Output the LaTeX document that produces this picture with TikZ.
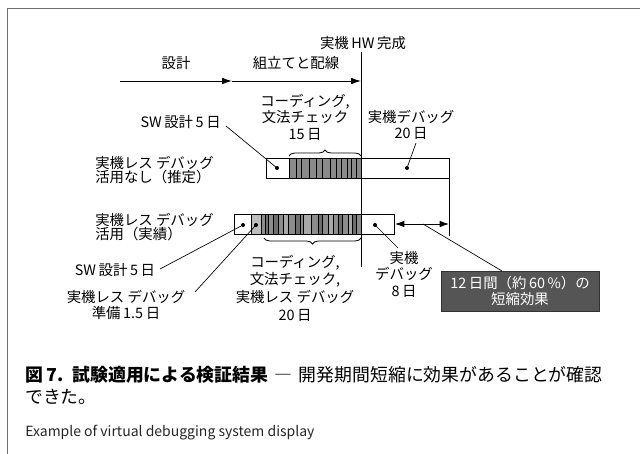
\documentclass[tikz,border=0pt]{standalone}
\usepackage{fontspec}
\setmainfont{Noto Sans CJK JP}
\usetikzlibrary{arrows.meta,decorations.pathreplacing}
\definecolor{darkfill}{HTML}{8A8A8A}
\definecolor{gA}{HTML}{6E6E6E}
\definecolor{gB}{HTML}{8C8C8C}
\definecolor{gC}{HTML}{A8A8A8}
\definecolor{prepfill}{HTML}{BDBDBD}
\definecolor{boxfill}{HTML}{555555}
\definecolor{boxline}{HTML}{333333}
\definecolor{framec}{HTML}{707070}
\newcommand{\jsp}{\hspace{0.18em}}
\begin{document}
\begin{tikzpicture}[x=0.75pt,y=-0.75pt,
  lbl/.style={font=\fontsize{10.8}{12.4}\selectfont, inner sep=0pt, align=center},
  tightlbl/.style={font=\fontsize{10.8}{11}\selectfont, inner sep=0pt, align=left},
  leader/.style={line width=0.5pt},
  dotm/.style={circle, fill=black, inner sep=0pt, minimum size=3pt},
  barline/.style={line width=0.75pt},
  stripe/.style={line width=0.6pt},
  tlarrow/.style={line width=0.75pt, -{Latex[length=7.5pt,width=5pt]}},
  dimarrow/.style={line width=0.75pt, {Latex[length=7pt,width=5pt]}-{Latex[length=7pt,width=5pt]}},
  bracestyle/.style={decorate, decoration={brace, amplitude=4.5pt}, line width=0.6pt},
]
\useasboundingbox (0,0) rectangle (640,454);
% frame
\draw[framec, line width=0.75pt] (640,8) -- (7,8) -- (7,454);

% timeline
\coordinate (tl0) at (120,81);
\coordinate (tl1) at (232,81);
\coordinate (tl2) at (361,81);
\draw[tlarrow] (tl0) -- (tl1);
\draw[tlarrow] (tl1) -- (tl2);
\node[lbl] (design) at (176,63) {設計};
\node[lbl] (assembly) at (296,63) {組立てと配線};
\node[lbl] (hwdone) at (363,43) {実機\jsp HW\jsp 完成};
\coordinate (vtop) at (361,52);
\coordinate (vbot) at (361,267);

% ---- top bar (without virtual debugging)
\fill[darkfill] (289,158) rectangle (361,178);
\foreach \x in {296.5,301.5,309,316.5,322.5,330,336.5,341.5,347,351.5,356.5}
  \draw[stripe] (\x,158) -- (\x,178);
\draw[barline] (289,158) -- (289,178);
\draw[barline] (266,158) rectangle (449,178);
\node[dotm] (d1) at (277,168) {};
\node[dotm] (d2) at (407,168) {};
\draw[bracestyle] (289,156) -- (361,156);

% ---- bottom bar (with virtual debugging)
\fill[prepfill] (251,214) rectangle (261,234);
\foreach \a/\b/\c in {261/265/gB,265/268/gA,268/273/gB,273/278/gA,278/283/gB,283/288/gC,288/295/gB,295/300/gA,300/303/gB,303/311/gC,311/318/gB,318/322/gA,322/328/gB,328/333/gC,333/338/gB,338/342/gA,342/348/gB,348/352/gC,352/356/gA,356/361/gB}
{
  \fill[\c] (\a,214) rectangle (\b,234);
  \draw[stripe] (\a,214) -- (\a,234);
}
\draw[barline] (251,214) -- (251,234);
\draw[barline] (261,214) -- (261,234);
\draw[barline] (234,214) rectangle (394,234);
\node[dotm] (d3) at (243,225) {};
\node[dotm] (d4) at (256,225) {};
\node[dotm] (d5) at (375,225) {};
\draw[bracestyle] (361,238) -- (264,238);

% main vertical line (HW completion)
\draw[line width=0.75pt] (vtop) -- (vbot);
% right reference line
\coordinate (rtop) at (449,178);
\coordinate (rbot) at (449,236);
\draw[line width=0.75pt] (rtop) -- (rbot);

% dimension arrow
\coordinate (dimL) at (395,224);
\coordinate (dimR) at (449,224);
\coordinate (dimM) at (423,224);
\draw[dimarrow] (dimL) -- (dimR);

% labels top
\node[lbl] (code1) at (305,117) {コーディング,\\文法チェック\\15\jsp 日};
\node[lbl] (dbg1) at (411,125) {実機デバッグ\\20\jsp 日};
\node[lbl, anchor=east] (sw1) at (221,122) {SW\jsp 設計\jsp 5\jsp 日};
\node[tightlbl, anchor=west] (case1) at (95,170) {実機レス デバッグ\\活用なし（推定）};
\node[tightlbl, anchor=west] (case2) at (95,227) {実機レス デバッグ\\活用（実績）};

% labels bottom
\node[lbl] (sw2) at (115,270) {SW\jsp 設計\jsp 5\jsp 日};
\node[lbl] (prep) at (126,305) {実機レス デバッグ\\準備\jsp 1.5\jsp 日};
\node[lbl, font=\fontsize{10.8}{13.2}\selectfont] (code2) at (295,288) {コーディング,\\文法チェック,\\実機レス デバッグ\\20\jsp 日};
\node[lbl] (dbg2) at (404,274) {実機\\デバッグ\\8\jsp 日};
\node[lbl, fill=boxfill, draw=boxline, line width=0.75pt, text=white,
      minimum width=118.5pt, minimum height=30pt] (result) at (520,291)
      {12\jsp 日間（約\jsp 60\jsp \%）の\\短縮効果};

% leaders
\coordinate (sw1l) at (226,126);
\coordinate (dbg1l) at (416,143);
\coordinate (sw2l) at (160,269);
\coordinate (prepl) at (195,292);
\coordinate (dbg2l) at (398,248);
\coordinate (resl) at (502,271);
\draw[leader] (sw1l) -- (d1.center);
\draw[leader] (d2.center) -- (dbg1l);
\draw[leader] (sw2l) -- (d3.center);
\draw[leader] (prepl) -- (d4.center);
\draw[leader] (d5.center) -- (dbg2l);
\draw[leader] (dimM) -- (resl);

% caption
\node[anchor=west, inner sep=0pt, font=\fontsize{13.4}{16}\selectfont] (cap1) at (25,375)
  {{\bfseries 図\jsp 7.\hspace{0.5em}試験適用による検証結果}\hspace{0.35em}―\hspace{0.35em}開発期間短縮に効果があることが確認};
\node[anchor=west, inner sep=0pt, font=\fontsize{13.4}{16}\selectfont] (cap2) at (25,397) {できた。};
\node[anchor=west, inner sep=0pt, font=\fontsize{10.5}{12}\selectfont, text=black!85] (cap3) at (25,433)
  {Example of virtual debugging system display};
\end{tikzpicture}
\end{document}
